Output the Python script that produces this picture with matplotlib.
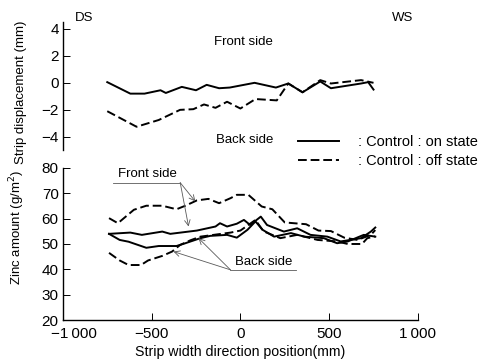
import matplotlib
matplotlib.use("Agg")
import matplotlib.pyplot as plt
import matplotlib.transforms as mtransforms
from matplotlib.lines import Line2D

plt.rcParams['font.family'] = ['Liberation Sans', 'DejaVu Sans']

# strip displacement (mm), upper panel
disp_on_x = [-750, -620, -540, -450, -420, -330, -250, -190, -120, -60, 80, 200, 270, 350, 450, 510, 680, 720, 750]
disp_on_y = [0.05, -0.8, -0.8, -0.55, -0.75, -0.3, -0.55, -0.15, -0.4, -0.35, 0.0, -0.35, -0.05, -0.7, 0.1, -0.4, -0.05, 0.05, -0.5]
disp_off_x = [-750, -585, -460, -340, -265, -205, -140, -75, 0, 85, 205, 270, 350, 450, 510, 680, 750]
disp_off_y = [-2.1, -3.25, -2.75, -2.0, -1.95, -1.6, -1.85, -1.4, -1.9, -1.2, -1.3, -0.05, -0.7, 0.2, -0.05, 0.2, 0.0]

# zinc amount (g/m2), lower panel
front_off_x = [-740, -690, -600, -530, -440, -360, -310, -245, -180, -120, -55, -20, 45, 120, 180, 250, 370, 440, 510, 585, 660, 735, 760]
front_off_y = [60.2, 58.2, 63.5, 65.1, 65.1, 63.7, 65.1, 67.2, 67.8, 66.1, 68.1, 69.4, 69.4, 64.8, 63.7, 58.5, 57.8, 55.3, 55.1, 52.5, 51.6, 53.6, 55.5]
front_on_x = [-740, -620, -555, -440, -395, -245, -140, -115, -75, -20, 20, 55, 115, 150, 245, 320, 395, 490, 565, 680, 735, 760]
front_on_y = [54.0, 54.5, 53.6, 54.9, 54.0, 55.3, 56.9, 58.2, 56.9, 58.0, 59.5, 57.5, 60.8, 57.5, 54.9, 56.2, 53.6, 52.9, 51.0, 52.3, 54.9, 56.5]
back_on_x = [-740, -680, -630, -530, -460, -360, -310, -225, -170, -75, -20, 40, 85, 125, 190, 285, 360, 470, 545, 605, 695, 760]
back_on_y = [54.0, 51.6, 50.9, 48.5, 49.2, 49.2, 50.3, 52.3, 53.2, 53.6, 52.5, 55.6, 58.9, 55.6, 52.9, 54.3, 52.9, 52.3, 50.3, 51.0, 53.6, 52.9]
back_off_x = [-740, -680, -630, -560, -520, -440, -385, -340, -280, -225, -55, 0, 85, 130, 225, 320, 435, 545, 605, 685, 715, 760]
back_off_y = [46.5, 43.5, 41.7, 41.7, 43.5, 45.3, 47.0, 49.6, 51.5, 52.9, 54.5, 55.3, 59.5, 55.0, 52.3, 53.6, 51.6, 51.0, 50.0, 50.0, 52.3, 53.0]

x_ticks = [-1000, -500, 0, 500, 1000]
x_labels = ['\u22121\u2009000', '\u2212500', '0', '500', '1\u2009000']
disp_ticks = [-4, -2, 0, 2, 4]
disp_labels = ['\u22124', '\u22122', '0', '2', '4']
zinc_ticks = [20, 30, 40, 50, 60, 70, 80]

dash = (0, (4.5, 2))
lw = 1.4

fig = plt.figure(figsize=(4.8, 3.62), dpi=100)
ax1 = fig.add_axes([0.131, 0.586, 0.7396, 0.354])
ax2 = fig.add_axes([0.131, 0.116, 0.7396, 0.42])

# ---- upper panel
ax1.plot(disp_on_x, disp_on_y, color='black', lw=lw)
ax1.plot(disp_off_x, disp_off_y, color='black', lw=lw, linestyle=dash)
ax1.set_xlim(-1000, 1000)
ax1.set_ylim(-4.96, 4.52)
for s in ['top', 'right', 'bottom']:
    ax1.spines[s].set_visible(False)
ax1.spines['left'].set_linewidth(1.0)
ax1.set_xticks([])
ax1.set_yticks(disp_ticks)
ax1.set_yticklabels(disp_labels)
ax1.tick_params(axis='y', direction='in', length=5, width=0.7, pad=3, labelsize=11)
ax1.set_ylabel('Strip displacement (mm)', fontsize=9.5)
ax1.yaxis.set_label_coords(-0.10, 0.45)
ax1.text(20, 3.0, 'Front side', ha='center', va='center', fontsize=9.5)
ax1.text(25, -4.25, 'Back side', ha='center', va='center', fontsize=9.5)
ax1.text(-935, 4.8, 'DS', ha='left', va='center', fontsize=9.5, clip_on=False)
ax1.text(915, 4.8, 'WS', ha='center', va='center', fontsize=9.5, clip_on=False)

# ---- lower panel
ax2.plot(front_off_x, front_off_y, color='black', lw=lw, linestyle=dash)
ax2.plot(front_on_x, front_on_y, color='black', lw=lw)
ax2.plot(back_on_x, back_on_y, color='black', lw=lw)
ax2.plot(back_off_x, back_off_y, color='black', lw=lw, linestyle=dash)
ax2.set_xlim(-1000, 1000)
ax2.set_ylim(20, 80)
for s in ['top', 'right']:
    ax2.spines[s].set_visible(False)
ax2.spines['left'].set_linewidth(1.0)
ax2.spines['bottom'].set_linewidth(1.0)
ax2.set_xticks(x_ticks)
ax2.set_xticklabels(x_labels)
ax2.set_yticks(zinc_ticks)
ax2.tick_params(axis='both', direction='in', length=5, width=0.7, pad=3, labelsize=11)
ax2.tick_params(axis='x', pad=5)
# first x label sits a little right of its tick, clear of the "20"
first = ax2.get_xticklabels()[0]
first.set_transform(first.get_transform() + mtransforms.ScaledTranslation(0.11, 0, fig.dpi_scale_trans))
ax2.set_xlabel('Strip width direction position(mm)', fontsize=10.2, labelpad=3)
ax2.set_ylabel('Zinc amount (g/m$^2$)', fontsize=9.5)
ax2.yaxis.set_label_coords(-0.10, 0.61)

arrow = dict(arrowstyle='->', lw=0.6, color='0.35', shrinkA=0, shrinkB=0)
ax2.text(-525, 77.8, 'Front side', ha='center', va='center', fontsize=9.5)
ax2.plot([-718, -339], [74.2, 74.2], color='0.35', lw=0.6)
ax2.annotate('', xy=(-254, 66.8), xytext=(-339, 74.2), arrowprops=arrow)
ax2.annotate('', xy=(-292, 56.9), xytext=(-339, 74.2), arrowprops=arrow)
ax2.text(130, 43.0, 'Back side', ha='center', va='center', fontsize=9.5)
ax2.plot([-56, 316], [39.8, 39.8], color='0.35', lw=0.6)
ax2.annotate('', xy=(-377, 47.0), xytext=(-56, 39.8), arrowprops=arrow)
ax2.annotate('', xy=(-236, 52.3), xytext=(-56, 39.8), arrowprops=arrow)

handles = [Line2D([], [], color='black', lw=lw),
           Line2D([], [], color='black', lw=lw, linestyle=dash)]
fig.legend(handles, [': Control : on state', ': Control : off state'],
           loc='center left', bbox_to_anchor=(0.621, 0.5815), frameon=False,
           fontsize=10.5, handlelength=2.8, handletextpad=1.3, labelspacing=0.35,
           borderpad=0, borderaxespad=0)

fig.savefig('out.png', dpi=100)
